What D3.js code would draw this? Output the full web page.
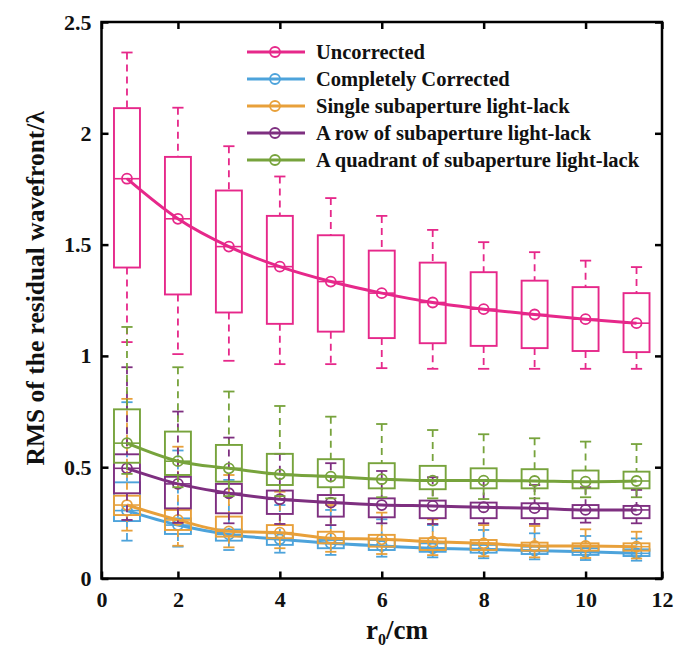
<!DOCTYPE html>
<html>
<head>
<meta charset="utf-8">
<script src="https://cdn.jsdelivr.net/npm/d3@7"></script>
<style>
  body { margin: 0; background: #fff; }
  text { font-family: "Liberation Serif", "Times New Roman", serif; font-weight: bold; }
</style>
</head>
<body>
<script>
// box positions (r0 index) and axis ticks
const positions = [1, 2, 3, 4, 5, 6, 7, 8, 9, 10, 11];
const xTickVals = [0.5, 2, 4, 6, 8, 10, 11.5];
const xTickLabels = ["0", "2", "4", "6", "8", "10", "12"];
const yTickVals = [0, 0.5, 1, 1.5, 2, 2.5];
const yTickLabels = ["0", "0.5", "1", "1.5", "2", "2.5"];

const names = ["Uncorrected", "Completely Corrected", "Single subaperture light-lack",
  "A row of subaperture light-lack", "A quadrant of subaperture light-lack"];
const colors = ["#e6288a", "#4da3db", "#e8a03a", "#7e2f80", "#77a33c"];

// Uncorrected
const uncUpper = [2.363, 2.115, 1.942, 1.806, 1.709, 1.629, 1.566, 1.511, 1.466, 1.428, 1.399];
const uncQ3    = [2.113, 1.894, 1.743, 1.629, 1.542, 1.473, 1.419, 1.376, 1.338, 1.309, 1.282];
const uncMed   = [1.796, 1.616, 1.491, 1.401, 1.334, 1.282, 1.240, 1.210, 1.186, 1.165, 1.147];
const uncQ1    = [1.397, 1.276, 1.195, 1.144, 1.109, 1.080, 1.057, 1.045, 1.035, 1.022, 1.017];
const uncLower = [1.062, 1.008, 0.978, 0.963, 0.963, 0.945, 0.942, 0.942, 0.942, 0.942, 0.942];

// Completely corrected
const corUpper = [0.792, 0.575, 0.443, 0.330, 0.308, 0.266, 0.240, 0.218, 0.203, 0.191, 0.180];
const corQ3    = [0.432, 0.270, 0.220, 0.203, 0.173, 0.173, 0.158, 0.151, 0.143, 0.136, 0.131];
const corMed   = [0.305, 0.240, 0.198, 0.176, 0.158, 0.146, 0.136, 0.131, 0.125, 0.120, 0.113];
const corQ1    = [0.258, 0.200, 0.170, 0.151, 0.136, 0.128, 0.120, 0.116, 0.110, 0.106, 0.101];
const corLower = [0.170, 0.143, 0.128, 0.116, 0.106, 0.098, 0.095, 0.091, 0.086, 0.083, 0.080];

// Single subaperture light-lack
const sglUpper = [0.807, 0.592, 0.465, 0.390, 0.330, 0.296, 0.266, 0.240, 0.236, 0.221, 0.210];
const sglQ3    = [0.372, 0.308, 0.278, 0.240, 0.210, 0.196, 0.181, 0.173, 0.161, 0.158, 0.158];
const sglMed   = [0.330, 0.263, 0.212, 0.206, 0.181, 0.176, 0.165, 0.158, 0.146, 0.146, 0.143];
const sglQ1    = [0.285, 0.218, 0.188, 0.181, 0.158, 0.143, 0.128, 0.128, 0.125, 0.125, 0.125];
const sglLower = [0.215, 0.147, 0.140, 0.136, 0.120, 0.110, 0.105, 0.100, 0.095, 0.092, 0.090];

// A row of subaperture light-lack
const rowUpper = [0.949, 0.750, 0.633, 0.560, 0.518, 0.483, 0.455, 0.440, 0.420, 0.410, 0.398];
const rowQ3    = [0.558, 0.457, 0.425, 0.395, 0.375, 0.360, 0.350, 0.341, 0.338, 0.330, 0.326];
const rowMed   = [0.495, 0.425, 0.383, 0.356, 0.341, 0.330, 0.326, 0.320, 0.316, 0.308, 0.308];
const rowQ1    = [0.383, 0.315, 0.293, 0.290, 0.278, 0.275, 0.271, 0.271, 0.271, 0.271, 0.271];
const rowLower = [0.263, 0.250, 0.248, 0.245, 0.240, 0.248, 0.245, 0.248, 0.245, 0.251, 0.248];

// A quadrant of subaperture light-lack
const quaUpper = [1.130, 0.949, 0.840, 0.775, 0.727, 0.694, 0.667, 0.648, 0.630, 0.615, 0.604];
const quaQ3    = [0.760, 0.660, 0.600, 0.560, 0.536, 0.518, 0.506, 0.495, 0.491, 0.485, 0.480];
const quaMed   = [0.608, 0.527, 0.495, 0.468, 0.458, 0.446, 0.440, 0.440, 0.438, 0.435, 0.438];
const quaQ1    = [0.520, 0.465, 0.435, 0.420, 0.410, 0.405, 0.401, 0.405, 0.405, 0.405, 0.405];
const quaLower = [0.470, 0.410, 0.370, 0.370, 0.360, 0.365, 0.360, 0.357, 0.360, 0.365, 0.365];

const series = [
  [uncUpper, uncQ3, uncMed, uncQ1, uncLower],
  [corUpper, corQ3, corMed, corQ1, corLower],
  [sglUpper, sglQ3, sglMed, sglQ1, sglLower],
  [rowUpper, rowQ3, rowMed, rowQ1, rowLower],
  [quaUpper, quaQ3, quaMed, quaQ1, quaLower]
];

const W = 676, H = 649;
const margin = {left: 101.5, right: 14, top: 22, bottom: 70.5};
const width = W - margin.left - margin.right;
const height = H - margin.top - margin.bottom;

const svg = d3.select("body").append("svg")
  .attr("width", W).attr("height", H);

const g = svg.append("g")
  .attr("transform", "translate(" + margin.left + "," + margin.top + ")");

const x = d3.scaleLinear().domain([0.5, 11.5]).range([0, width]);
const y = d3.scaleLinear().domain([0, 2.5]).range([height, 0]);

const boxW = (x(2) - x(1)) * 0.51;
const capW = (x(2) - x(1)) * 0.22;

series.forEach((s, k) => {
  const col = colors[k];
  const sg = g.append("g");
  positions.forEach((p, i) => {
    const cx = x(p);
    const up = s[0][i], q3 = s[1][i], md = s[2][i], q1 = s[3][i], lo = s[4][i];
    // whiskers
    sg.append("line").attr("x1", cx).attr("x2", cx).attr("y1", y(up)).attr("y2", y(q3))
      .attr("stroke", col).attr("stroke-width", 1.8).attr("stroke-dasharray", "7,5");
    sg.append("line").attr("x1", cx).attr("x2", cx).attr("y1", y(q1)).attr("y2", y(lo))
      .attr("stroke", col).attr("stroke-width", 1.8).attr("stroke-dasharray", "7,5");
    sg.append("line").attr("x1", cx - capW / 2).attr("x2", cx + capW / 2)
      .attr("y1", y(up)).attr("y2", y(up)).attr("stroke", col).attr("stroke-width", 1.8);
    sg.append("line").attr("x1", cx - capW / 2).attr("x2", cx + capW / 2)
      .attr("y1", y(lo)).attr("y2", y(lo)).attr("stroke", col).attr("stroke-width", 1.8);
    // box
    sg.append("rect").attr("x", cx - boxW / 2).attr("y", y(q3))
      .attr("width", boxW).attr("height", y(q1) - y(q3))
      .attr("fill", "none").attr("stroke", col).attr("stroke-width", 1.9);
    sg.append("line").attr("x1", cx - boxW / 2).attr("x2", cx + boxW / 2)
      .attr("y1", y(md)).attr("y2", y(md)).attr("stroke", col).attr("stroke-width", 1.6);
  });
  const line = d3.line().x((d, i) => x(positions[i])).y(d => y(d)).curve(d3.curveMonotoneX);
  sg.append("path").datum(s[2]).attr("d", line)
    .attr("fill", "none").attr("stroke", col).attr("stroke-width", 3);
  sg.selectAll("circle.m").data(s[2]).enter().append("circle")
    .attr("cx", (d, i) => x(positions[i])).attr("cy", d => y(d)).attr("r", 5)
    .attr("fill", "none").attr("stroke", col).attr("stroke-width", 1.8);
});

// axes
const xAxis = d3.axisBottom(x).tickValues(xTickVals)
  .tickFormat((d, i) => xTickLabels[i]).tickSizeInner(-7).tickSizeOuter(0).tickPadding(13);
g.append("g").attr("transform", "translate(0," + height + ")").call(xAxis);
g.append("g").call(d3.axisTop(x).tickValues(xTickVals).tickFormat("").tickSizeInner(-7).tickSizeOuter(0));

const yAxis = d3.axisLeft(y).tickValues(yTickVals)
  .tickFormat((d, i) => yTickLabels[i]).tickSizeInner(-7).tickSizeOuter(0).tickPadding(10);
g.append("g").call(yAxis);
g.append("g").attr("transform", "translate(" + width + ",0)")
  .call(d3.axisRight(y).tickValues(yTickVals).tickFormat("").tickSizeInner(-7).tickSizeOuter(0));

g.selectAll(".tick line").attr("stroke", "#000").attr("stroke-width", 2.5);
g.selectAll(".domain").remove();
g.selectAll(".tick text").attr("font-size", 22).attr("fill", "#111")
  .style("font-family", "'Liberation Serif', serif").style("font-weight", "bold");

g.append("rect").attr("width", width).attr("height", height)
  .attr("fill", "none").attr("stroke", "#000").attr("stroke-width", 2.5);

// axis titles
svg.append("text")
  .attr("transform", "translate(35," + (margin.top + height / 2 - 12) + ") rotate(-90)")
  .attr("text-anchor", "middle").attr("dominant-baseline", "central")
  .attr("font-size", 25.5).attr("fill", "#111").text("RMS of the residual wavefront/λ");

const xt = svg.append("text").attr("x", 397).attr("y", 639)
  .attr("text-anchor", "middle").attr("font-size", 27).attr("fill", "#111");
xt.append("tspan").text("r");
xt.append("tspan").attr("font-size", 16).attr("dy", 6).text("0");
xt.append("tspan").attr("dy", -6).text("/cm");

// legend
const leg = svg.append("g");
names.forEach((n, i) => {
  const ly = 52 + i * 27;
  leg.append("line").attr("x1", 247).attr("x2", 305).attr("y1", ly).attr("y2", ly)
    .attr("stroke", colors[i]).attr("stroke-width", 3);
  leg.append("circle").attr("cx", 275).attr("cy", ly).attr("r", 5)
    .attr("fill", "none").attr("stroke", colors[i]).attr("stroke-width", 1.8);
  leg.append("text").attr("x", 316).attr("y", ly).attr("dominant-baseline", "central")
    .attr("font-size", 20.5).attr("fill", "#111").text(n);
});
</script>
</body>
</html>
